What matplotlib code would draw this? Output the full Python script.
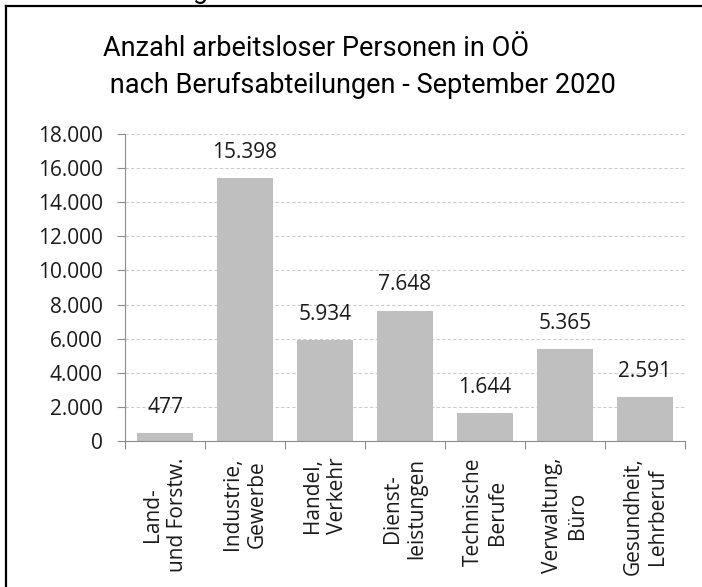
import numpy as np
import matplotlib.pyplot as plt
from matplotlib.lines import Line2D

# --- Data ---
categories = [
    "Land-\nund Forstw.",
    "Industrie,\nGewerbe",
    "Handel,\nVerkehr",
    "Dienst-\nleistungen",
    "Technische\nBerufe",
    "Verwaltung,\nBüro",
    "Gesundheit,\nLehrberuf",
]
values = [477, 15398, 5934, 7648, 1644, 5365, 2591]
yticks = [0, 2000, 4000, 6000, 8000, 10000, 12000, 14000, 16000, 18000]

title_line1 = "Anzahl arbeitsloser Personen in OÖ"
title_line2 = " nach Berufsabteilungen - September 2020"


def de_fmt(v):
    return f"{v:,}".replace(",", ".")


W, H = 702, 587
fig = plt.figure(figsize=(W / 100, H / 100), dpi=100)

# axes placement in pixel coords
left, right, top, bottom = 125, 685, 134, 441
ax = fig.add_axes([left / W, 1 - bottom / H, (right - left) / W, (bottom - top) / H])

tick_font = ["Open Sans", "DejaVu Sans"]
title_font = ["Roboto", "DejaVu Sans"]

x = np.arange(len(categories))
ax.bar(x, values, width=0.7, color="#bfbfbf", zorder=2)

ax.set_xlim(-0.5, len(categories) - 0.5)
ax.set_ylim(0, 18000)
ax.set_yticks(yticks)
ax.set_yticklabels([de_fmt(v) for v in yticks], fontsize=15, family=tick_font, color="#1a1a1a")
ax.yaxis.grid(True, linestyle=(0, (3, 2)), color="#cccccc", linewidth=0.8, zorder=0)
ax.tick_params(axis="y", length=6, width=0.8, color="#8c8c8c", pad=10)

# category labels centred, ticks between categories
ax.set_xticks(x)
ax.set_xticklabels(categories, rotation=90, fontsize=15, family=tick_font,
                   multialignment="center", va="top", ha="center", color="#1a1a1a",
                   linespacing=1.2)
ax.tick_params(axis="x", which="major", length=0, pad=12)
ax.set_xticks(np.arange(len(categories) + 1) - 0.5, minor=True)
ax.tick_params(axis="x", which="minor", length=6, width=0.8, color="#8c8c8c")

for s in ["top", "right"]:
    ax.spines[s].set_visible(False)
for s in ["left", "bottom"]:
    ax.spines[s].set_color("#8c8c8c")
    ax.spines[s].set_linewidth(0.8)

# value labels
for xi, v in zip(x, values):
    ax.annotate(de_fmt(v), (xi, v), xytext=(0, 11), textcoords="offset points",
                ha="center", va="bottom", fontsize=15, family=tick_font, color="#1a1a1a")

# title
fig.text(103 / W, 1 - 56 / H, title_line1, fontsize=19.5, family=title_font,
         ha="left", va="baseline", color="black")
fig.text(103 / W, 1 - 93 / H, title_line2, fontsize=19.5, family=title_font,
         ha="left", va="baseline", color="black")

# cut-off text above the frame (as in the reference)
fig.text(193 / W, 1 + 2 / H, "g", fontsize=19.5, family=title_font,
         ha="left", va="baseline", color="black")

# frame (top and left visible)
fig.add_artist(Line2D([6 / W, 1.0], [1 - 6 / H, 1 - 6 / H], color="black", linewidth=1.6,
                      transform=fig.transFigure))
fig.add_artist(Line2D([6 / W, 6 / W], [1 - 6 / H, 0.0], color="black", linewidth=1.6,
                      transform=fig.transFigure))

plt.savefig("out.png", dpi=100)
